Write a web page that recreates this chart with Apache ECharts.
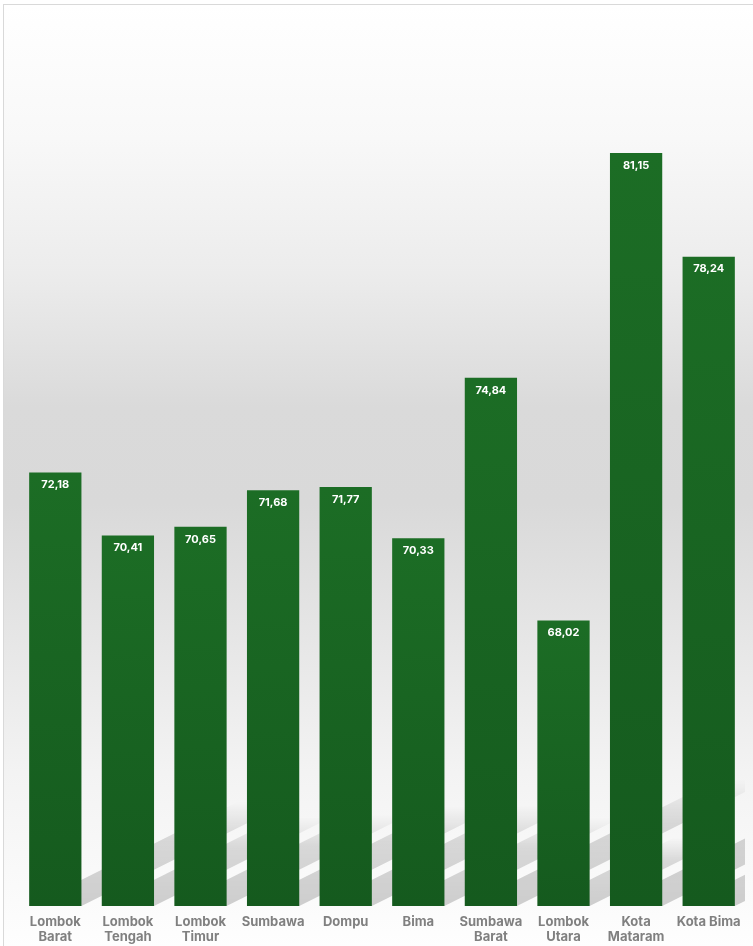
<!DOCTYPE html>
<html>
<head>
<meta charset="utf-8">
<script src="https://cdn.jsdelivr.net/npm/echarts@6/dist/echarts.min.js"></script>
<style>
  html, body { margin: 0; padding: 0; background: #ffffff; }
  #frame {
    position: absolute; left: 3px; top: 4px; width: 770px; height: 960px;
    border: 1px solid #d9d9d9; box-sizing: border-box;
    background: linear-gradient(to bottom, #ffffff 0%, #f8f8f8 14%, #ececec 28%, #dadada 42%, #d9d9d9 52%, #e6e6e6 66%, #f3f3f3 80%, #fafafa 92%, #ffffff 100%);
  }
  #chart { position: absolute; left: 0; top: 0; width: 753px; height: 946px; }
</style>
</head>
<body>
<div id="frame"></div>
<div id="chart"></div>
<script>
const categories = ['Lombok\nBarat', 'Lombok\nTengah', 'Lombok\nTimur', 'Sumbawa', 'Dompu', 'Bima', 'Sumbawa\nBarat', 'Lombok\nUtara', 'Kota\nMataram', 'Kota Bima'];
const values = [72.18, 70.41, 70.65, 71.68, 71.77, 70.33, 74.84, 68.02, 81.15, 78.24];
const yMin = 60;
const yMax = 85;

const chart = echarts.init(document.getElementById('chart'), null, { renderer: 'canvas' });

const barGradient = {
  type: 'linear', x: 0, y: 0, x2: 0, y2: 1,
  colorStops: [
    { offset: 0, color: '#1c6d25' },
    { offset: 1, color: '#155a1e' }
  ]
};

const shadowGradient = {
  type: 'linear', x: 0, y: 0, x2: 0, y2: 1,
  colorStops: [
    { offset: 0, color: 'rgba(0,0,0,0)' },
    { offset: 0.35, color: 'rgba(0,0,0,0.13)' },
    { offset: 1, color: 'rgba(0,0,0,0.18)' }
  ]
};

const option = {
  backgroundColor: 'transparent',
  animation: false,
  grid: { left: 19, right: 8, top: 16, bottom: 40, containLabel: false },
  xAxis: {
    type: 'category',
    data: categories,
    axisLine: { show: false },
    axisTick: { show: false },
    axisLabel: {
      interval: 0,
      margin: 9,
      color: '#808080',
      fontFamily: 'Inter',
      fontWeight: 'bold',
      fontSize: 13,
      lineHeight: 15
    }
  },
  yAxis: {
    type: 'value',
    min: yMin,
    max: yMax,
    interval: 5,
    show: false,
    splitLine: { show: false }
  },
  series: [
    {
      type: 'custom',
      z: 1,
      clip: true,
      silent: true,
      data: values.map((v, i) => [i, v]),
      encode: { x: 0, y: 1 },
      renderItem: function (params, api) {
        const idx = api.value(0);
        const v = api.value(1);
        const base = api.coord([idx, yMin]);
        const top = api.coord([idx, v]);
        const bw = api.size([1, 0])[0] * 0.72;
        const h = base[1] - top[1];
        const dy = h * 0.24;
        const dx = dy / 0.5;
        const xL = base[0] - bw / 2;
        const xR = base[0] + bw / 2;
        const y = base[1];
        return {
          type: 'polygon',
          shape: { points: [[xL, y], [xR, y], [xR + dx, y - dy], [xL + dx, y - dy]] },
          style: { fill: shadowGradient }
        };
      }
    },
    {
      type: 'bar',
      z: 3,
      data: values,
      barCategoryGap: '28%',
      itemStyle: { color: barGradient },
      label: {
        show: true,
        position: 'insideTop',
        distance: 7,
        color: '#ffffff',
        fontFamily: 'Inter',
        fontWeight: 'bold',
        fontSize: 11,
        formatter: function (p) { return p.value.toFixed(2).replace('.', ','); }
      }
    }
  ]
};

chart.setOption(option);
</script>
</body>
</html>
